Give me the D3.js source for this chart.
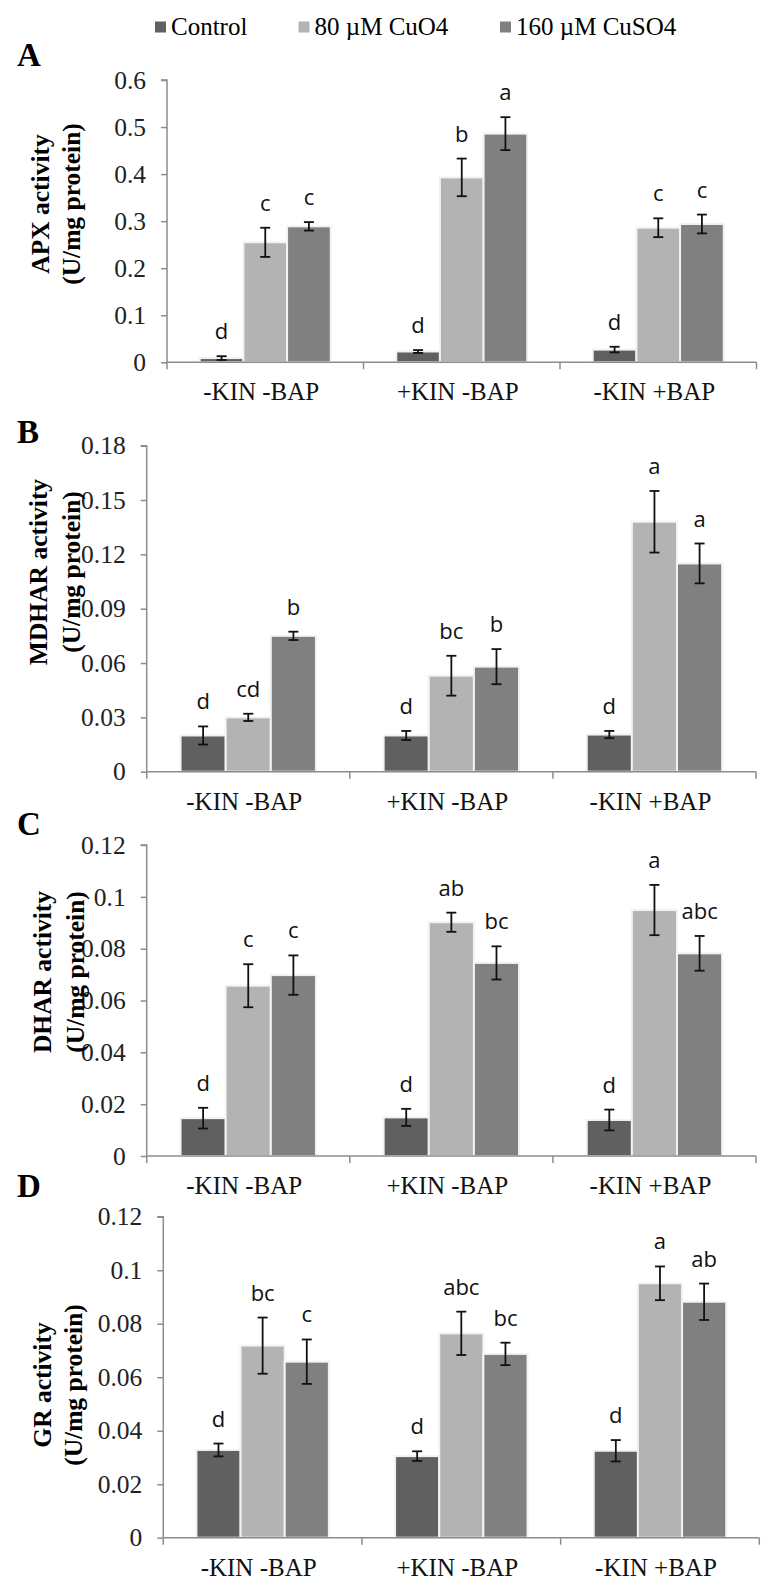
<!DOCTYPE html>
<html>
<head>
<meta charset="utf-8">
<script src="https://cdn.jsdelivr.net/npm/d3@7"></script>
<style>
  html, body { margin: 0; padding: 0; background: #fff; }
  svg { display: block; }
</style>
</head>
<body>
<svg id="chart" width="777" height="1593"></svg>
<script>
// ---------- DATA ----------
const groups = ["-KIN -BAP", "+KIN -BAP", "-KIN +BAP"];
const series = ["Control", "80 \u00b5M CuO4", "160 \u00b5M CuSO4"];
const seriesColors = ["#606060", "#b3b3b3", "#808080"];

// values[group][series]
const apxValues   = [[0.009, 0.255, 0.289], [0.023, 0.393, 0.486], [0.027, 0.286, 0.294]];
const apxErrors   = [[0.004, 0.031, 0.009], [0.003, 0.040, 0.035], [0.006, 0.020, 0.020]];
const apxLetters  = [["d", "c", "c"], ["d", "b", "a"], ["d", "c", "c"]];
const apxTicks    = [0, 0.1, 0.2, 0.3, 0.4, 0.5, 0.6];

const mdharValues  = [[0.020, 0.030, 0.075], [0.020, 0.053, 0.058], [0.0205, 0.138, 0.115]];
const mdharErrors  = [[0.005, 0.002, 0.0023], [0.0025, 0.011, 0.0097], [0.002, 0.017, 0.011]];
const mdharLetters = [["d", "cd", "b"], ["d", "bc", "b"], ["d", "a", "a"]];
const mdharTicks   = [0, 0.03, 0.06, 0.09, 0.12, 0.15, 0.18];

const dharValues  = [[0.0146, 0.0657, 0.0698], [0.0149, 0.0902, 0.0745], [0.0139, 0.0949, 0.0782]];
const dharErrors  = [[0.004, 0.0083, 0.0076], [0.0033, 0.0037, 0.0064], [0.004, 0.0097, 0.0067]];
const dharLetters = [["d", "c", "c"], ["d", "ab", "bc"], ["d", "a", "abc"]];
const dharTicks   = [0, 0.02, 0.04, 0.06, 0.08, 0.1, 0.12];

const grValues  = [[0.0328, 0.0718, 0.0658], [0.0305, 0.0764, 0.0687], [0.0325, 0.0951, 0.0882]];
const grErrors  = [[0.0024, 0.0105, 0.0083], [0.0018, 0.0081, 0.0042], [0.004, 0.0063, 0.0068]];
const grLetters = [["d", "bc", "c"], ["d", "abc", "bc"], ["d", "a", "ab"]];
const grTicks   = [0, 0.02, 0.04, 0.06, 0.08, 0.1, 0.12];

// ---------- LAYOUT ----------
const panels = [
  { tag: "A", title: "APX activity", values: apxValues, errors: apxErrors, letters: apxLetters, ticks: apxTicks,
    left: 167, right: 756.5, top: 80, bottom: 362.3, tagY: 66, titleY: 204, t1x: 49, t2x: 80 },
  { tag: "B", title: "MDHAR activity", values: mdharValues, errors: mdharErrors, letters: mdharLetters, ticks: mdharTicks,
    left: 146.7, right: 756, top: 445.7, bottom: 771.7, tagY: 443, titleY: 572, t1x: 47, t2x: 80 },
  { tag: "C", title: "DHAR activity", values: dharValues, errors: dharErrors, letters: dharLetters, ticks: dharTicks,
    left: 146.7, right: 756, top: 845, bottom: 1156, tagY: 835, titleY: 972, t1x: 51, t2x: 84 },
  { tag: "D", title: "GR activity", values: grValues, errors: grErrors, letters: grLetters, ticks: grTicks,
    left: 163.3, right: 759.3, top: 1216.7, bottom: 1537.7, tagY: 1197, titleY: 1385, t1x: 51, t2x: 82 }
];

const svg = d3.select("#chart");
svg.append("rect").attr("width", 777).attr("height", 1593).attr("fill", "#fff");

const serif = "'Liberation Serif', 'Times New Roman', serif";
const sans = "'Open Sans', 'Noto Sans', sans-serif";
const axisColor = "#8c8c8c";
const fmt = d => d === 0 ? "0" : String(+d.toFixed(2));

// ---------- LEGEND ----------
const legendX = [155, 298.5, 500];
const legend = svg.append("g");
series.forEach((s, i) => {
  legend.append("rect").attr("x", legendX[i]).attr("y", 21.5).attr("width", 11).attr("height", 11)
    .attr("fill", seriesColors[i]);
  legend.append("text").attr("x", legendX[i] + 16).attr("y", 35)
    .attr("font-family", serif).attr("font-size", 25).attr("fill", "#000").text(s);
});

// ---------- PANELS ----------
panels.forEach(p => {
  const g = svg.append("g");
  const x0 = d3.scaleBand().domain(groups).range([p.left, p.right]).paddingInner(0).paddingOuter(0);
  const x1 = d3.scaleBand().domain(series).range([0, x0.bandwidth()]).paddingInner(0).paddingOuter(0.75);
  const y = d3.scaleLinear().domain([p.ticks[0], p.ticks[p.ticks.length - 1]]).range([p.bottom, p.top]);

  // bars
  groups.forEach((grp, gi) => {
    series.forEach((s, si) => {
      const v = p.values[gi][si];
      const e = p.errors[gi][si];
      const bx = x0(grp) + x1(s);
      const bw = x1.bandwidth();
      g.append("rect")
        .attr("x", bx).attr("y", y(v)).attr("width", bw).attr("height", y(0) - y(v))
        .attr("fill", seriesColors[si]).attr("stroke", "#f2f2f2").attr("stroke-width", 2);
      const cx = bx + bw / 2;
      // error bars
      g.append("line").attr("x1", cx).attr("x2", cx).attr("y1", y(v + e)).attr("y2", y(v - e))
        .attr("stroke", "#111").attr("stroke-width", 1.8);
      [v + e, v - e].forEach(yy => {
        g.append("line").attr("x1", cx - 5).attr("x2", cx + 5).attr("y1", y(yy)).attr("y2", y(yy))
          .attr("stroke", "#111").attr("stroke-width", 1.8);
      });
      // significance letter
      g.append("text").attr("x", cx).attr("y", y(v + e) - 17).attr("text-anchor", "middle")
        .attr("font-family", sans).attr("font-size", 22).attr("fill", "#111").text(p.letters[gi][si]);
    });
  });

  // y axis
  const yAxis = d3.axisLeft(y).tickValues(p.ticks).tickFormat(fmt).tickSize(6).tickPadding(15);
  const ya = g.append("g").attr("transform", `translate(${p.left},0)`).call(yAxis);
  ya.select(".domain").attr("stroke", axisColor).attr("stroke-width", 1.5).attr("d", `M-6,${p.top}H0V${p.bottom}`);
  ya.selectAll(".tick line").attr("stroke", axisColor).attr("stroke-width", 1.5);
  ya.selectAll(".tick text").attr("font-family", serif).attr("font-size", 25.5).attr("fill", "#222");

  // x axis
  const xa = g.append("g");
  xa.append("line").attr("x1", p.left).attr("x2", p.right).attr("y1", p.bottom).attr("y2", p.bottom)
    .attr("stroke", axisColor).attr("stroke-width", 1.5);
  const bounds = groups.map(gr => x0(gr)).concat([p.right]);
  bounds.forEach(bx => {
    xa.append("line").attr("x1", bx).attr("x2", bx).attr("y1", p.bottom).attr("y2", p.bottom + 7)
      .attr("stroke", axisColor).attr("stroke-width", 1.5);
  });
  groups.forEach(gr => {
    xa.append("text").attr("x", x0(gr) + x0.bandwidth() / 2 - 4).attr("y", p.bottom + 38)
      .attr("text-anchor", "middle").attr("font-family", serif).attr("font-size", 25).attr("fill", "#111")
      .text(gr);
  });

  // axis title (two lines, rotated)
  g.append("text").attr("transform", `translate(${p.t1x},${p.titleY}) rotate(-90)`)
    .attr("text-anchor", "middle").attr("font-family", serif).attr("font-weight", "bold")
    .attr("font-size", 25.5).attr("fill", "#000").text(p.title);
  g.append("text").attr("transform", `translate(${p.t2x},${p.titleY}) rotate(-90)`)
    .attr("text-anchor", "middle").attr("font-family", serif).attr("font-weight", "bold")
    .attr("font-size", 25.5).attr("fill", "#000").text("(U/mg protein)");

  // panel tag
  g.append("text").attr("x", 17).attr("y", p.tagY).attr("font-family", serif).attr("font-weight", "bold")
    .attr("font-size", 33).attr("fill", "#000").text(p.tag);
});
</script>
</body>
</html>
